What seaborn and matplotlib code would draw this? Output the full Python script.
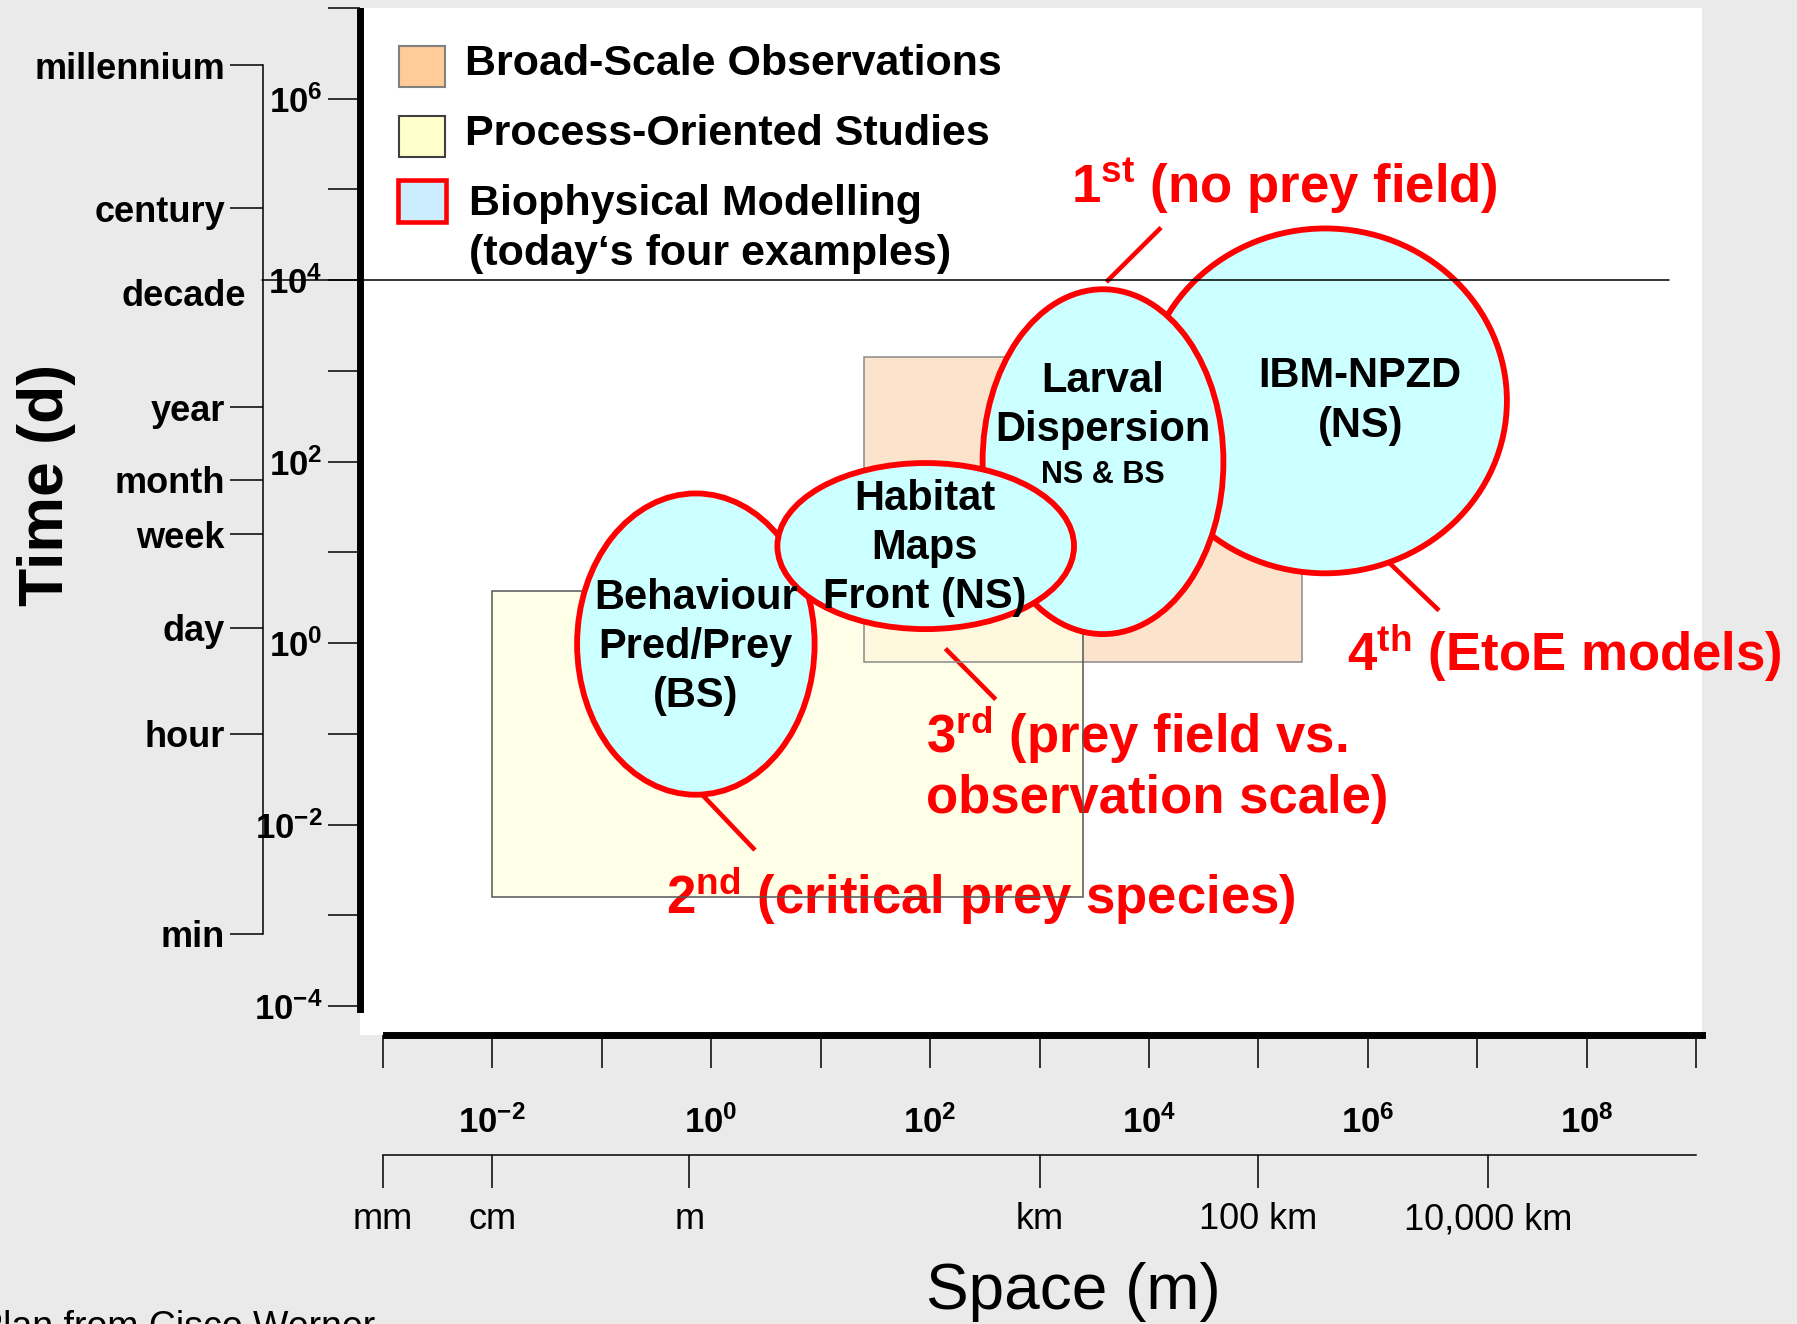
import matplotlib
matplotlib.use('Agg')
import matplotlib.pyplot as plt
import seaborn as sns
from matplotlib.patches import Ellipse, Rectangle

sns.set_theme(style='white')
plt.rcParams['font.family'] = ['Liberation Sans', 'DejaVu Sans']
plt.rcParams['text.color'] = 'black'

# all positions are log10(space in m) and log10(time in d)
space_ticks = list(range(-3, 10))
space_label_exps = [-2, 0, 2, 4, 6, 8]
time_ticks = list(range(-4, 8))
time_label_exps = [-4, -2, 0, 2, 4, 6]

space_units = ['mm', 'cm', 'm', 'km', '100 km', '10,000 km']
space_unit_pos = [-3, -2, -0.2, 3, 5, 7.1]

time_units = ['millennium', 'century', 'year', 'month', 'week', 'day', 'hour', 'min']
time_unit_pos = [6.37, 4.79, 2.6, 1.8, 1.2, 0.17, -1.0, -3.2]
decade_pos = 4.0

# observation boxes
box_names = ['Broad-Scale Observations', 'Process-Oriented Studies']
box_x = [(1.40, 5.40), (-2.0, 3.40)]
box_y = [(-0.21, 3.15), (-2.80, 0.58)]
box_fill = ['#FCE4CC', '#FFFFE3']
box_edge = ['#8A8A8A', '#555555']

# biophysical models (drawing order)
model_names = ['IBM-NPZD\n(NS)', 'Larval\nDispersion', 'Behaviour\nPred/Prey\n(BS)', 'Habitat\nMaps\nFront (NS)']
model_cx = [5.61, 3.58, -0.14, 1.96]
model_cy = [2.67, 2.00, -0.01, 1.07]
model_w = [3.32, 2.20, 2.17, 2.71]
model_h = [3.80, 3.80, 3.32, 1.83]
model_text_x = [5.93, 3.58, -0.14, 1.95]
model_text_y = [2.67, 2.62, -0.04, 1.05]
larval_sub = 'NS & BS'
larval_sub_y = 1.85

# red notes and their leader lines
notes = [r'1$\mathregular{^{st}}$ (no prey field)',
         r'2$\mathregular{^{nd}}$ (critical prey species)',
         '3$\\mathregular{^{rd}}$ (prey field vs.\nobservation scale)',
         r'4$\mathregular{^{th}}$ (EtoE models)']
note_x = [3.29, -0.41, 1.96, 5.81]
note_y = [5.03, -2.79, -1.33, -0.11]
lead_x = [(4.11, 3.61), (-0.09, 0.40), (2.14, 2.60), (6.20, 6.65)]
lead_y = [(4.58, 3.98), (-1.66, -2.28), (-0.06, -0.62), (0.88, 0.36)]

legend_labels = ['Broad-Scale Observations', 'Process-Oriented Studies',
                 'Biophysical Modelling\n(today\u2018s four examples)']
legend_face = ['#FFCC99', '#FFFFCC', '#CCECFF']
legend_edge = ['#808080', '#404040', '#FF0000']

RED = '#FF0000'

fig = plt.figure(figsize=(17.97, 13.24), dpi=100, facecolor='#EAEAEA')
ax = fig.add_axes([0.2003, 0.2184, 0.7468, 0.7756])
ax.set_facecolor('white')
ax.set_xlim(-3.209, 9.052)
ax.set_ylim(-4.316, 7.0)

for s in ['top', 'right']:
    ax.spines[s].set_visible(False)
ax.spines['left'].set_linewidth(5)
ax.spines['left'].set_color('black')
ax.spines['left'].set_bounds(-4.03, 6.97)
ax.spines['bottom'].set_linewidth(5)
ax.spines['bottom'].set_color('black')
ax.spines['bottom'].set_bounds(-2.97, 9.05)

# main power-of-ten axes
ax.set_xticks(space_ticks,
              labels=[r'$\mathregular{10^{%d}}$' % e if e in space_label_exps else '' for e in space_ticks],
              fontweight='bold', fontsize=25)
ax.set_yticks(time_ticks,
              labels=[r'$\mathregular{10^{%d}}$' % e if e in time_label_exps else '' for e in time_ticks],
              fontweight='bold', fontsize=25)
ax.tick_params(axis='x', direction='out', length=24, width=1.1, pad=27, colors='black', bottom=True)
ax.tick_params(axis='y', direction='out', length=23, width=1.1, pad=4, colors='black', left=True)
ax.grid(False)

# unit scales
sec_x = ax.secondary_xaxis(-0.1172)
sec_x.set_xticks(space_unit_pos, labels=space_units, fontsize=26)
sec_x.tick_params(direction='out', length=24, width=1.1, pad=10, colors='black')
sec_x.spines['bottom'].set_linewidth(1.1)
sec_x.spines['bottom'].set_color('black')
sec_x.spines['bottom'].set_bounds(-3, 9)

sec_y = ax.secondary_yaxis(-0.0726)
sec_y.set_yticks(time_unit_pos, labels=time_units, fontsize=26, fontweight='bold')
sec_y.tick_params(direction='out', length=24, width=1.1, pad=3, colors='black')
sec_y.spines['left'].set_linewidth(1.1)
sec_y.spines['left'].set_color('black')
sec_y.spines['left'].set_bounds(min(time_unit_pos), max(time_unit_pos))

ax.text(-4.25, 3.82, 'decade', ha='right', va='center', fontsize=26,
        fontweight='bold', clip_on=False)
ax.plot([-4.10, 8.75], [decade_pos, decade_pos], color='black', lw=1.1,
        clip_on=False, zorder=9)

# boxes: fill, then outline above the red notes
for i in range(len(box_names)):
    (x0, x1), (y0, y1) = box_x[i], box_y[i]
    ax.add_patch(Rectangle((x0, y0), x1 - x0, y1 - y0, facecolor=box_fill[i],
                           edgecolor='none', alpha=1.0 if i == 0 else 0.8, zorder=1 + i * 0.1))
    ax.add_patch(Rectangle((x0, y0), x1 - x0, y1 - y0, fill=False,
                           edgecolor=box_edge[i], lw=1.1, zorder=3))

for i in range(len(model_names)):
    ax.add_patch(Ellipse((model_cx[i], model_cy[i]), model_w[i], model_h[i],
                         facecolor='#CCFFFF', edgecolor=RED, lw=4.2, zorder=4 + i))
    ax.text(model_text_x[i], model_text_y[i], model_names[i], ha='center', va='center',
            fontsize=30, fontweight='bold', linespacing=1.3, zorder=10)
ax.text(model_cx[1], larval_sub_y, larval_sub, ha='center', va='center',
        fontsize=22, fontweight='bold', zorder=10)

for i in range(len(notes)):
    ax.plot(lead_x[i], lead_y[i], color=RED, lw=3.3, solid_capstyle='butt', zorder=2)
    ax.text(note_x[i], note_y[i], notes[i], ha='left', va='center', color=RED,
            fontsize=38, fontweight='bold', linespacing=1.2, zorder=2)

# legend
sw_x = [0.0290, 0.0290, 0.0282]
sw_y = [0.9230, 0.8549, 0.7913]
sw_w = [0.0342, 0.0342, 0.0359]
sw_h = [0.0402, 0.0402, 0.0413]
lab_x = [0.0786, 0.0786, 0.0811]
lab_y = [0.9451, 0.8775, 0.7850]
for i in range(3):
    ax.add_patch(Rectangle((sw_x[i], sw_y[i]), sw_w[i], sw_h[i], transform=ax.transAxes,
                           facecolor=legend_face[i], edgecolor=legend_edge[i],
                           lw=3.3 if i == 2 else 1.5, zorder=10))
    ax.text(lab_x[i], lab_y[i], legend_labels[i], transform=ax.transAxes, ha='left',
            va='center', fontsize=31, fontweight='bold', linespacing=1.32, zorder=10)

fig.text(0.0256, 0.6337, 'Time (d)', rotation=90, ha='center', va='center',
         fontsize=45, fontweight='bold')
fig.text(0.5975, 0.0244, 'Space (m)', ha='center', va='center', fontsize=46)
fig.text(-0.012, -0.003, 'Plan from Cisco Werner', ha='left', va='center', fontsize=27)

fig.savefig('out.png', dpi=100, facecolor=fig.get_facecolor())
